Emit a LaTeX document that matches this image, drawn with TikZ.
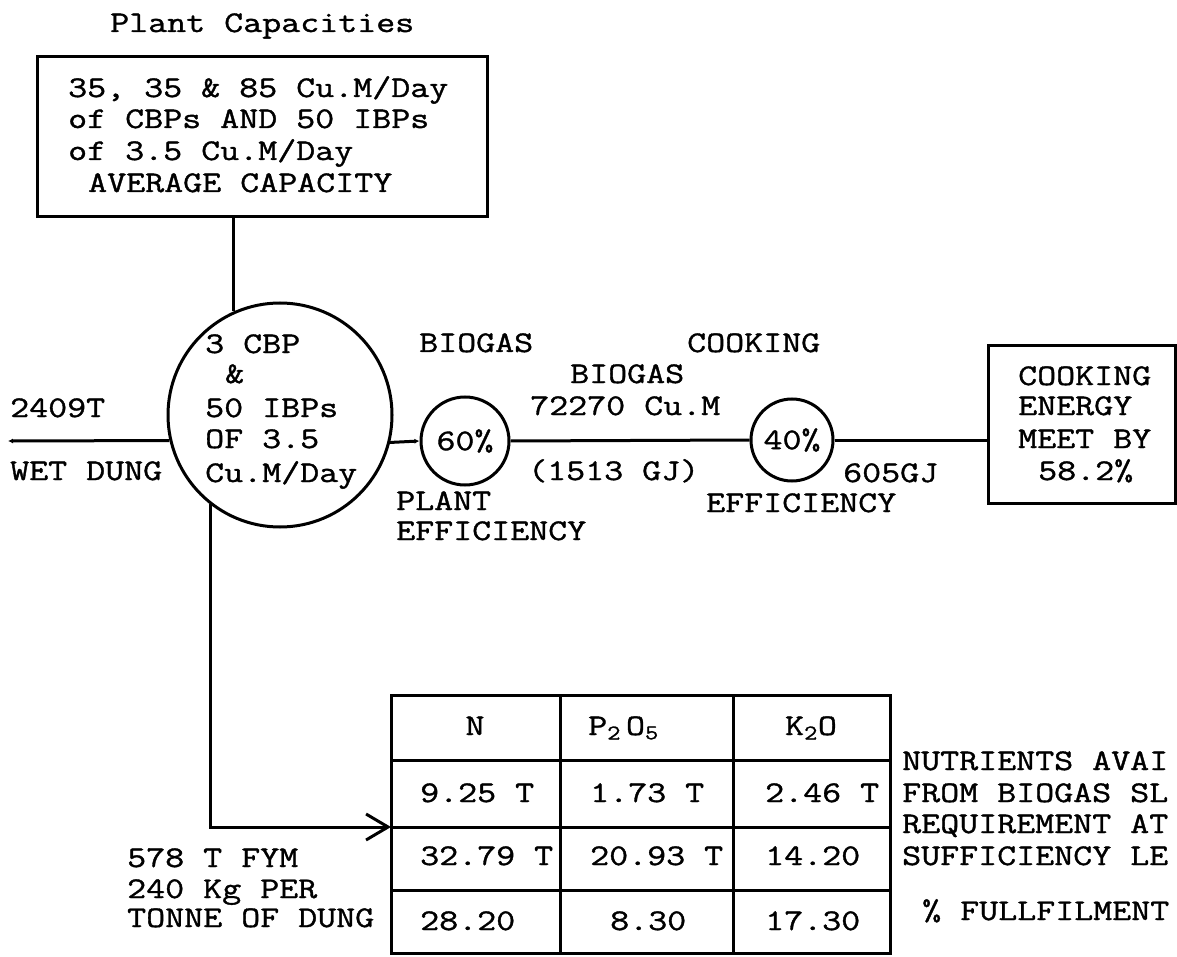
\documentclass[tikz,border=0pt]{standalone}
\usepackage{fontspec}
\newfontfamily\tw{Latin Modern Mono}[FakeStretch=1.23,FakeBold=1.2]
\usetikzlibrary{arrows.meta}
\begin{document}
\begin{tikzpicture}[x=1pt,y=-1pt,
  txt/.style={anchor=base west,inner sep=0pt,font=\tw\fontsize{30}{31.5}\selectfont},
  ctxt/.style={anchor=base,inner sep=0pt,font=\tw\fontsize{30}{31.5}\selectfont},
  frame/.style={draw,line width=3pt,inner sep=0pt},
  ring/.style={circle,draw,line width=3pt,inner sep=0pt,font=\tw\fontsize{30}{31.5}\selectfont},
  wire/.style={line width=3pt},
]
\fill[white] (0,0) rectangle (1177,957);
\useasboundingbox (0,0) rectangle (1177,957);

% top box
\node[txt] (title) at (110,32) {Plant Capacities};
\node[frame,minimum width=450pt,minimum height=160pt] (cap) at (262,137) {};
\node[txt] (cap1) at (68,97) {35, 35 \& 85 Cu.M/Day};
\node[txt] (cap2) at (68,128) {of CBPs AND 50 IBPs};
\node[txt] (cap3) at (68,160) {of 3.5 Cu.M/Day};
\node[txt] (cap4) at (88,192) {AVERAGE CAPACITY};

% big circle
\node[ring,minimum size=224pt] (big) at (280,415) {};
\node[txt] (b1) at (205,353) {3 CBP};
\node[txt] (b2) at (225,383) {\&};
\node[txt] (b3) at (205,417) {50 IBPs};
\node[txt] (b4) at (205,448) {OF 3.5};
\node[txt] (b5) at (205,482) {Cu.M/Day};

\coordinate (wd) at (8,441);
\node[txt] (t2409) at (10,417) {2409T};
\node[txt] (twet) at (10,480) {WET DUNG};

% efficiency circles
\node[ring,minimum size=88pt] (c60) at (465,441) {60\%};
\node[ring,minimum size=82pt] (c40) at (792,440) {40\%};

\node[txt] (bg1) at (419,352) {BIOGAS};
\node[txt] (ck1) at (687,352) {COOKING};
\node[txt] (bg2) at (570,383) {BIOGAS};
\node[txt] (vol) at (530,415) {72270 Cu.M};
\node[txt] (gj1) at (528,480) {(1513 GJ)};
\node[txt] (pl) at (396,510) {PLANT};
\node[txt] (ef1) at (396,540) {EFFICIENCY};
\node[txt] (gj2) at (843,482) {605GJ};
\node[txt] (ef2) at (706,512) {EFFICIENCY};

% cooking box
\node[frame,minimum width=187pt,minimum height=158pt] (cook) at (1081.5,424) {};
\node[txt] (k1) at (1018,385) {COOKING};
\node[txt] (k2) at (1018,415) {ENERGY};
\node[txt] (k3) at (1018,448) {MEET BY};
\node[txt] (k4) at (1038,480) {58.2\%};

% connectors
\draw[wire] (big.114.8) -- (big.114.8 |- cap.south);
\draw[wire,-{Latex[length=5pt,width=5pt]}] (big.193.4) -- (wd);
\draw[wire,-{Latex[length=5pt,width=5pt]}] (big.346.6) -- (c60.west);
\draw[wire] (c60.east) -- (c40.west);
\draw[wire] (c40.east) -- (c40.east -| cook.west);

% table
\coordinate (tin) at (391,827);
\draw[wire] (391,695) rectangle (890,953);
\draw[wire] (391,760) -- (890,760);
\draw[wire] (391,827) -- (890,827);
\draw[wire] (391,890) -- (890,890);
\draw[wire] (560,695) -- (560,953);
\draw[wire] (733,695) -- (733,953);

\draw[wire,-{Straight Barb[length=22pt,width=26pt]}] (big.232.6) |- (tin);

\node[ctxt] (hN) at (475,735) {N};
\node[txt] (hP) at (588,735) {P\textsubscript{2}\,O\textsubscript{5}};
\node[ctxt] (hK) at (811,735) {K\textsubscript{2}O};

\node[txt] (r11) at (420,802) {9.25 T};
\node[txt] (r12) at (590,802) {1.73 T};
\node[txt] (r13) at (765,802) {2.46 T};
\node[txt] (r21) at (420,865) {32.79 T};
\node[txt] (r22) at (590,865) {20.93 T};
\node[txt] (r23) at (765,865) {14.20};
\node[txt] (r31) at (420,930) {28.20};
\node[txt] (r32) at (610,930) {8.30};
\node[txt] (r33) at (765,930) {17.30};

\node[txt] (n1) at (902,770) {NUTRIENTS AVAI};
\node[txt] (n2) at (902,802) {FROM BIOGAS SL};
\node[txt] (n3) at (902,833) {REQUIREMENT AT};
\node[txt] (n4) at (902,865) {SUFFICIENCY LE};
\node[txt] (n5) at (922,920) {\% FULLFILMENT};

\node[txt] (f1) at (127,867) {578 T FYM};
\node[txt] (f2) at (127,898) {240 Kg PER};
\node[txt] (f3) at (127,927) {TONNE OF DUNG};
\end{tikzpicture}
\end{document}
